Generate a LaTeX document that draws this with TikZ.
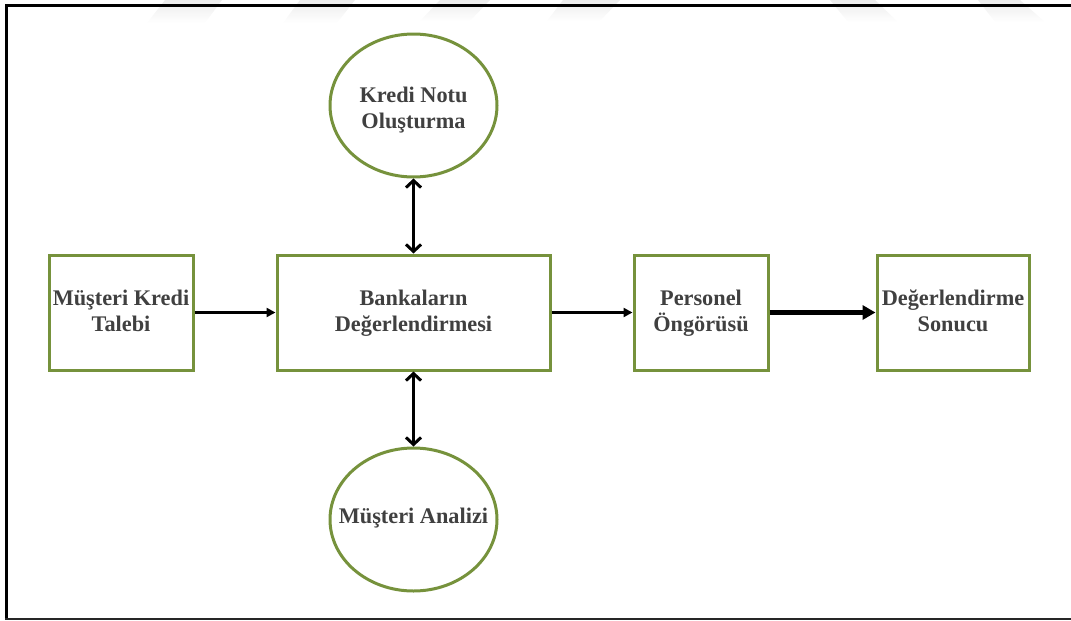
\documentclass[tikz,border=0pt]{standalone}
\usepackage{fontspec}
\setmainfont{Liberation Serif}
\usetikzlibrary{arrows.meta,shapes.geometric}

\definecolor{boxgreen}{RGB}{118,146,60}
\definecolor{labelgray}{RGB}{64,64,64}
\definecolor{markgray}{RGB}{236,236,236}

\tikzset{
  lbl/.style={font=\bfseries\fontsize{22.3}{26}\selectfont, text=labelgray, align=center, inner sep=0pt},
  stepbox/.style={draw=boxgreen, line width=3pt, rectangle, inner sep=0pt, minimum height=115pt, lbl, text depth=4pt},
  bubble/.style={draw=boxgreen, line width=3pt, ellipse, inner sep=0pt, minimum width=167pt, minimum height=143pt},
  flow/.style={line width=2.5pt, -{Triangle[length=9pt,width=9pt]}},
  bigflow/.style={line width=4.5pt, -{Triangle[length=13pt,width=14pt]}},
  link/.style={line width=3pt, {Straight Barb[length=7pt,width=15pt]}-{Straight Barb[length=7pt,width=15pt]}},
  chevron/.style={top color=markgray, bottom color=white, draw=none}
}

\begin{document}
\begin{tikzpicture}[x=1pt, y=-1pt]
  \useasboundingbox (0,0) rectangle (1071,621);

  % faint chevrons along the top edge
  \shade[chevron] (165,0) -- (222,0) -- (205,23) -- (147,23) -- cycle;
  \shade[chevron] (300,0) -- (355,0) -- (337,23) -- (283,23) -- cycle;
  \shade[chevron] (440,0) -- (490,0) -- (470,21) -- (420,21) -- cycle;
  \shade[chevron] (563,0) -- (620,0) -- (600,21) -- (547,21) -- cycle;
  \shade[chevron] (830,0) -- (875,0) -- (898,22) -- (848,22) -- cycle;
  \shade[chevron] (978,0) -- (1020,0) -- (1045,22) -- (995,22) -- cycle;

  % outer frame
  \draw[line width=3pt, black] (1075,5) -- (6,5) -- (6,619);
  \draw[line width=2.2pt, black!85] (5,619) -- (1075,619);

  % process boxes
  \node[stepbox, minimum width=144pt] (talep) at (121,312.5) {Müşteri Kredi\\Talebi};
  \node[stepbox, minimum width=273pt] (banka) at (413.5,312.5) {Bankaların\\Değerlendirmesi};
  \node[stepbox, minimum width=134pt] (ongoru) at (701,312.5) {Personel\\Öngörüsü};
  \node[stepbox, minimum width=152pt] (sonuc) at (953,312.5) {Değerlendirme\\Sonucu};

  % side processes
  \node[bubble, label={[lbl, yshift=-5pt]center:Kredi Notu\\Oluşturma}] (not) at (413.5,105.5) {};
  \node[bubble, label={[lbl, yshift=1pt]center:Müşteri Analizi}] (analiz) at (413.5,519.5) {};

  % connectors
  \draw[flow] (talep.east) -- (banka.west);
  \draw[flow] (banka.east) -- (ongoru.west);
  \draw[bigflow] (ongoru.east) -- (sonuc.west);
  \draw[link] (not.south) -- (banka.north);
  \draw[link] (banka.south) -- (analiz.north);
\end{tikzpicture}
\end{document}
